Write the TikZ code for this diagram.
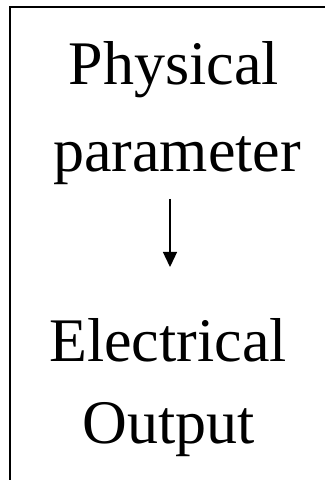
\documentclass[tikz,border=0pt]{standalone}
\usepackage{fontspec}
\setmainfont{Liberation Serif}
\usetikzlibrary{arrows.meta}
\begin{document}
\begin{tikzpicture}[x=1pt,y=1pt,
  word/.style={anchor=base,inner sep=0pt,font=\fontsize{62}{70}\selectfont},
  frameline/.style={line width=2pt},
  flow/.style={line width=1.3pt,-{Triangle[length=15pt,width=14pt]}}]
  \useasboundingbox (0,0) rectangle (325,480);
  % open frame: top edge and left edge only
  \draw[frameline] (9.8,0) -- (9.8,473.2) -- (325,473.2);
  % labels
  \node[word] (phys) at (174,395) {Physical};
  \node[word] (param) at (177,308) {parameter};
  \node[word] (elec) at (168,118) {Electrical};
  \node[word] (out) at (169,37) {Output};
  % conversion arrow
  \coordinate (src) at (170,281);
  \coordinate (dst) at (170,213);
  \draw[flow] (src) -- (dst);
\end{tikzpicture}
\end{document}
